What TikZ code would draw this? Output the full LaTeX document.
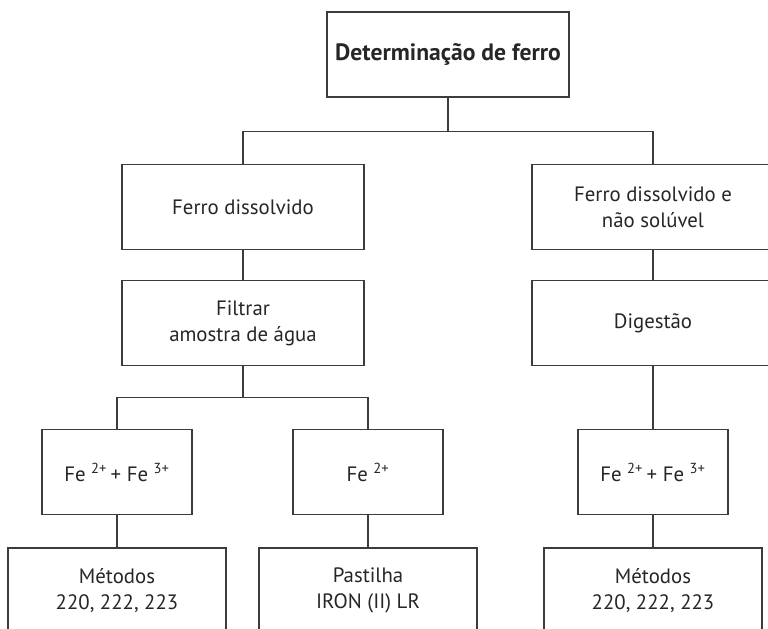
\documentclass[tikz,border=0pt]{standalone}
\usepackage{fontspec}
\setmainfont{PT Sans}
\usepackage{xcolor}
\usepackage{tikz}
\usetikzlibrary{positioning}
\definecolor{linegray}{HTML}{3C3C3C}
\definecolor{textgray}{HTML}{262626}
\tikzstyle{box}    = [rectangle, minimum width=6.05cm, minimum height=2.125cm,
                      inner sep=0pt, align=center, draw=linegray, line width=0.9pt,
                      text=textgray, font=\fontsize{14.8}{18.5}\selectfont]
\tikzstyle{ionbox} = [box, minimum width=3.75cm]
\tikzstyle{metbox} = [box, minimum width=5.45cm]
\tikzstyle{line}   = [draw=linegray, line width=0.9pt]

\begin{document}
\begin{tikzpicture}[node distance=0.75cm]
  \clip (0,0) rectangle (19.2,-15.7);
  \node[box, font=\fontsize{16.8}{18.5}\selectfont\bfseries] (det) at (11.2,-1.3625) {Determinação de ferro};
  \node[box, below=1.65cm of det, xshift=-5.125cm] (fd)  {Ferro dissolvido};
  \node[box, below=1.65cm of det, xshift=5.125cm]  (fds) {Ferro dissolvido e\\não solúvel};
  \node[box, below=of fd]  (filt) {Filtrar\\amostra de água};
  \node[box, below=of fds] (dig)  {Digestão};
  \node[ionbox, below=1.575cm of filt, xshift=-3.15cm] (fetot) {Fe \textsuperscript{2+}\,+ Fe \textsuperscript{3+}};
  \node[ionbox, below=1.575cm of filt, xshift=3.125cm] (fedois) {Fe \textsuperscript{2+}};
  \node[ionbox, below=1.575cm of dig] (fedig) {Fe \textsuperscript{2+}\,+ Fe \textsuperscript{3+}};
  \node[metbox, below=0.8cm of fetot]  (met)   {Métodos\\220, 222, 223};
  \node[metbox, below=0.8cm of fedois] (past)  {Pastilha\\IRON (II) LR};
  \node[metbox, below=0.8cm of fedig]  (metdig) {Métodos\\220, 222, 223};

  \draw[line] (det.south) -- ++(0,-0.85cm) -| (fd.north);
  \draw[line] (det.south) -- ++(0,-0.85cm) -| (fds.north);
  \draw[line] (fd)  -- (filt);
  \draw[line] (fds) -- (dig);
  \draw[line] (filt.south) -- ++(0,-0.78cm) -| (fetot.north);
  \draw[line] (filt.south) -- ++(0,-0.78cm) -| (fedois.north);
  \draw[line] (dig)    -- (fedig);
  \draw[line] (fetot)  -- (met);
  \draw[line] (fedois) -- (past);
  \draw[line] (fedig)  -- (metdig);
\end{tikzpicture}
\end{document}
